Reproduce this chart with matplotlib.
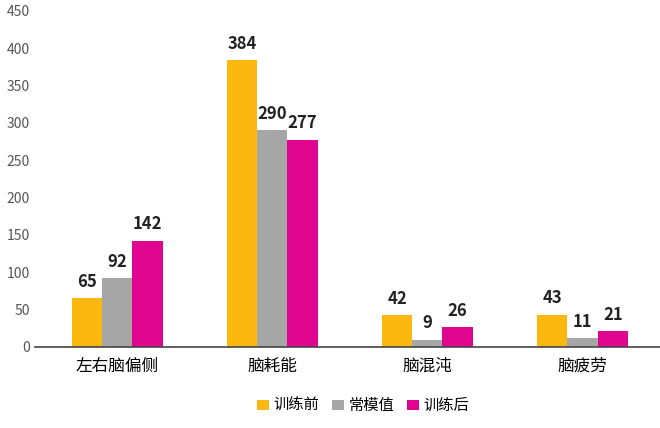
import matplotlib
matplotlib.use("Agg")
import matplotlib.pyplot as plt
import numpy as np

plt.rcParams['font.family'] = ['Noto Sans CJK SC', 'DejaVu Sans']

categories = ["左右脑偏侧", "脑耗能", "脑混沌", "脑疲劳"]
series = ["训练前", "常模值", "训练后"]
before = [65, 384, 42, 43]
norm = [92, 290, 9, 11]
after = [142, 277, 26, 21]
colors = ["#FDB80F", "#A6A6A6", "#E0058E"]

fig = plt.figure(figsize=(6.6, 4.28), dpi=100)
ax = fig.add_axes([0.053, 0.19, 0.947, 0.785])
x = np.arange(len(categories))
w = 0.195
for i, (vals, c, lab) in enumerate(zip([before, norm, after], colors, series)):
    xs = x + (i - 1) * w
    ax.bar(xs, vals, w, color=c, label=lab)
    for xv, v in zip(xs, vals):
        ax.text(xv, v + 10, str(v), ha="center", va="bottom",
                fontsize=12, fontweight="bold", color="#222222")

ax.set_xlim(-0.53, 3.5)
ax.set_ylim(0, 450)
ax.set_yticks(range(0, 451, 50))
ax.set_xticks(x)
ax.set_xticklabels(categories, fontsize=12)
ax.tick_params(axis="y", labelsize=10, colors="#555555", length=0)
ax.tick_params(axis="x", length=0, pad=8)
for s in ["top", "right", "left"]:
    ax.spines[s].set_visible(False)
ax.spines["bottom"].set_color("#444444")
ax.spines["bottom"].set_linewidth(1.2)

fig.legend(loc="lower center", ncol=3, frameon=False, fontsize=11,
           bbox_to_anchor=(0.55, 0.0), handlelength=0.8, handletextpad=0.3,
           columnspacing=0.8)
fig.savefig("out.png", dpi=100, facecolor="white")
